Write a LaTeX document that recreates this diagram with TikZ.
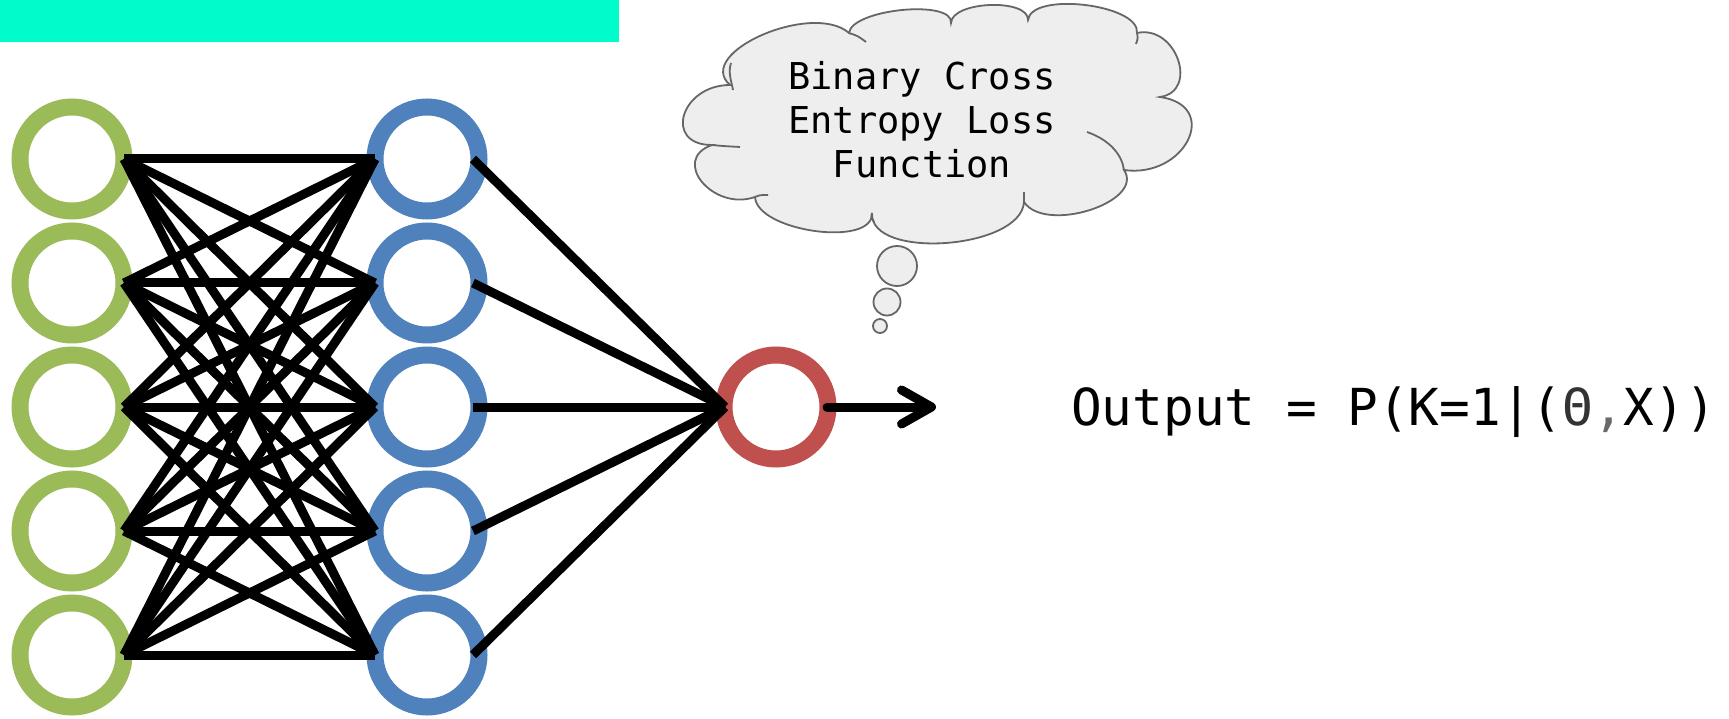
\documentclass[tikz,border=0pt]{standalone}
\usepackage{fontspec}
\newfontfamily\monofont{DejaVu Sans Mono}
\usetikzlibrary{arrows.meta,calc}
\definecolor{tealbar}{HTML}{00FCCB}
\definecolor{ngreen}{HTML}{9BBB59}
\definecolor{nblue}{HTML}{4F81BD}
\definecolor{nred}{HTML}{C0504D}
\definecolor{cloudfill}{HTML}{EEEEEE}
\definecolor{cloudline}{HTML}{666666}
\definecolor{commagray}{HTML}{6A6A6A}
\definecolor{thetagray}{HTML}{333333}
\begin{document}
\begin{tikzpicture}[x=1pt,y=-1pt,
  neuron/.style={circle, minimum size=104pt, inner sep=0pt, line width=17pt, fill=white},
  edge/.style={draw=black, line width=9pt},
  cloudstyle/.style={fill=cloudfill, draw=cloudline, line width=1.8pt},
  cloudarc/.style={draw=cloudline, line width=1.8pt},
  bubble/.style={circle, inner sep=0pt, fill=cloudfill, draw=cloudline, line width=1.8pt},
  cloudtext/.style={font=\monofont\fontsize{37}{44}\selectfont, align=center, inner sep=0pt},
  outtext/.style={font=\monofont\fontsize{51}{60}\selectfont, inner sep=0pt, anchor=base west}
]
\useasboundingbox (0,0) rectangle (1729,719);
\fill[tealbar] (0,0) rectangle (619,42);

% neurons
\foreach \i/\y in {1/159,2/283,3/407,4/531,5/655}{
  \node[neuron, draw=ngreen] (g\i) at (72,\y) {};
  \node[neuron, draw=nblue] (h\i) at (427,\y) {};
  \coordinate (gi\i) at ($(g\i)+(52,0)$);
  \coordinate (hi\i) at ($(h\i)+(-52,0)$);
  \coordinate (ho\i) at ($(h\i)+(46,0)$);
}
\node[neuron, draw=nred] (o) at (776,407) {};
\coordinate (oi) at ($(o)+(-51,0)$);
\coordinate (oo) at ($(o)+(51,0)$);
\coordinate (tip) at ($(o)+(160,0)$);

% connectors
\foreach \i in {1,...,5}{
  \foreach \j in {1,...,5}{
    \draw[edge] (gi\i) -- (hi\j);
  }
  \draw[edge] (ho\i) -- (oi);
}
\draw[edge, line cap=round, -{Straight Barb[length=30pt, width=34pt, round]}] (oo) -- (tip);

% cloud
\path[cloudstyle] (730,85)
 .. controls (693.3,53) and (812.3,1) .. (849,33)
 .. controls (851.7,9) and (953.7,-1) .. (951,23)
 .. controls (951.7,1) and (1028.7,-2) .. (1028,20)
 .. controls (1031.3,-8.7) and (1140.3,4.3) .. (1137,33)
 .. controls (1176.3,24.3) and (1199.3,91.3) .. (1160,97)
 .. controls (1221.3,105.7) and (1185.3,178.7) .. (1124,170)
 .. controls (1145.3,202) and (1045.3,234) .. (1024,202)
 .. controls (1021.3,249.3) and (869.3,260.3) .. (872,213)
 .. controls (874,247.7) and (757,231.7) .. (755,197)
 .. controls (713,211.7) and (670,159.7) .. (712,145)
 .. controls (662.7,145) and (680.7,85) .. (730,85) -- cycle;
\draw[cloudarc] (849,33) .. controls (858,36) .. (866,42);
\draw[cloudarc] (1137,33) .. controls (1138,38) .. (1136,44);
\draw[cloudarc] (1087,132) .. controls (1110,140) and (1122,155) .. (1124,170);
\draw[cloudarc] (731,63) .. controls (728,72) and (731,80) .. (733,90);
\draw[cloudarc] (712,145) .. controls (722,146) .. (740,147);
\draw[cloudarc] (755,197) .. controls (760,195) .. (768,195);
\draw[cloudarc] (872,213) .. controls (871,217) .. (874,222);
\draw[cloudarc] (1024,202) -- (1024,192);
\node[cloudtext] (ct) at (922,120) {Binary Cross\\Entropy Loss\\Function};
\node[bubble, minimum size=40pt] (b1) at (897,266) {};
\node[bubble, minimum size=27pt] (b2) at (887,302) {};
\node[bubble, minimum size=14pt] (b3) at (880,326) {};

% output text
\node[outtext] (out) at (1071,425) {Output = P(K=1|(\textcolor{thetagray}{Θ}\textcolor{commagray}{,}X))};
\end{tikzpicture}
\end{document}
